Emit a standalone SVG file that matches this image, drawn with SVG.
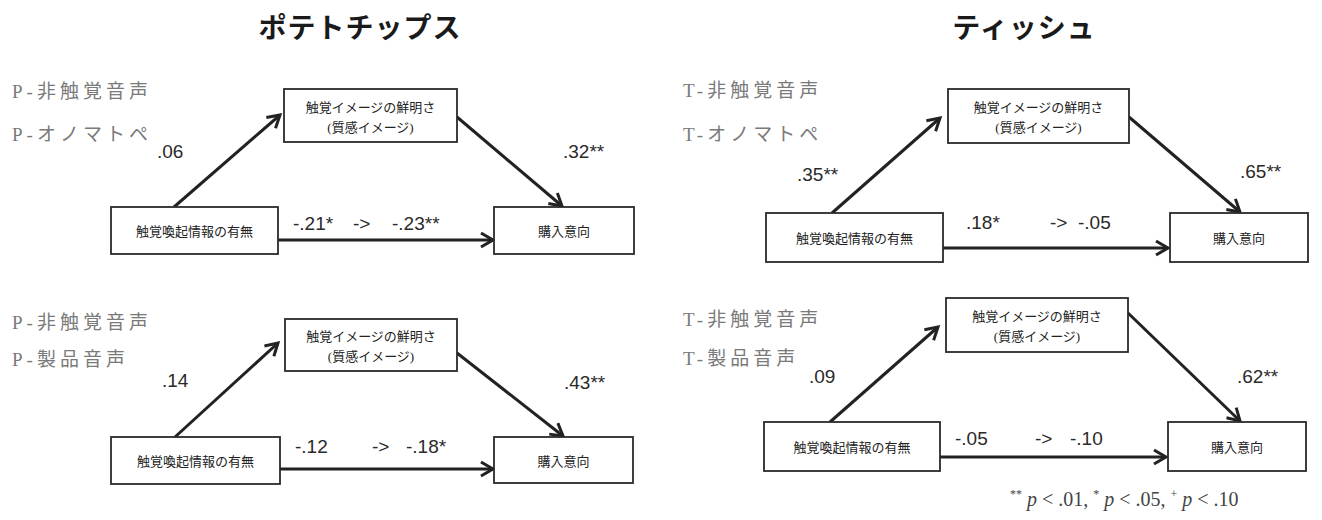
<svg xmlns="http://www.w3.org/2000/svg" width="1322" height="520" viewBox="0 0 1322 520">
<defs>
<marker id="ah" markerUnits="userSpaceOnUse" markerWidth="18" markerHeight="18" refX="14" refY="9" orient="auto">
<path d="M2,2 L14,9 L2,16" fill="none" stroke="#222" stroke-width="3" stroke-linejoin="miter"/>
</marker>
<style>
.title{font-family:"Noto Sans CJK JP",sans-serif;font-size:28px;font-weight:bold;fill:#1a1a1a;text-anchor:middle;letter-spacing:1px}
.cond{font-family:"Liberation Serif","Noto Sans CJK JP",serif;font-size:19px;fill:#7a7a7a;letter-spacing:4px}
.box{fill:#fff;stroke:#2a2a2a;stroke-width:1.8}
.bt{font-family:"Liberation Serif","Noto Sans CJK JP",serif;font-size:13px;fill:#222;text-anchor:middle}
.num{font-family:"Liberation Sans",Arial,sans-serif;font-size:19px;fill:#2a2a2a}
.arr{stroke:#222;stroke-width:3;fill:none;marker-end:url(#ah)}
.note{font-family:"Liberation Serif",serif;font-size:20px;fill:#444}
</style>
</defs>
<rect width="1322" height="520" fill="#fff"/>

<g id="titles">
<text class="title" x="360" y="38">ポテトチップス</text>
<text class="title" x="1024" y="38">ティッシュ</text>
</g>

<g id="conditions">
<text class="cond" x="12" y="98">P-非触覚音声</text>
<text class="cond" x="12" y="141">P-オノマトペ</text>
<text class="cond" x="683" y="97">T-非触覚音声</text>
<text class="cond" x="683" y="141">T-オノマトペ</text>
<text class="cond" x="12" y="329">P-非触覚音声</text>
<text class="cond" x="12" y="366">P-製品音声</text>
<text class="cond" x="683" y="326">T-非触覚音声</text>
<text class="cond" x="683" y="365">T-製品音声</text>
</g>

<g id="connectors">
<line class="arr" x1="174" y1="207" x2="280" y2="115"/>
<line class="arr" x1="457" y1="117" x2="562" y2="206"/>
<line class="arr" x1="278" y1="240" x2="493" y2="240"/>
<line class="arr" x1="832" y1="213" x2="940" y2="118"/>
<line class="arr" x1="1129" y1="117" x2="1240" y2="212"/>
<line class="arr" x1="943" y1="248" x2="1168" y2="248"/>
<line class="arr" x1="175" y1="437" x2="278" y2="343"/>
<line class="arr" x1="457" y1="353" x2="563" y2="436"/>
<line class="arr" x1="280" y1="469" x2="493" y2="469"/>
<line class="arr" x1="830" y1="422" x2="938" y2="327"/>
<line class="arr" x1="1128" y1="313" x2="1240" y2="421"/>
<line class="arr" x1="940" y1="457" x2="1166" y2="457"/>
</g>

<g id="p1-mediator"><rect class="box" x="284" y="89" width="173" height="53"/><text class="bt" x="370.5" y="112">触覚イメージの鮮明さ</text><text class="bt" x="370.5" y="132">(質感イメージ)</text></g>
<g id="p1-x"><rect class="box" x="111" y="207" width="167" height="47"/><text class="bt" x="194.5" y="236">触覚喚起情報の有無</text></g>
<g id="p1-y"><rect class="box" x="494" y="207" width="140" height="47"/><text class="bt" x="564" y="236">購入意向</text></g>

<g id="t1-mediator"><rect class="box" x="948" y="89" width="181" height="54"/><text class="bt" x="1038.5" y="112">触覚イメージの鮮明さ</text><text class="bt" x="1038.5" y="132">(質感イメージ)</text></g>
<g id="t1-x"><rect class="box" x="766" y="213" width="177" height="49"/><text class="bt" x="854.5" y="243">触覚喚起情報の有無</text></g>
<g id="t1-y"><rect class="box" x="1170" y="213" width="138" height="49"/><text class="bt" x="1239" y="243">購入意向</text></g>

<g id="p2-mediator"><rect class="box" x="285" y="319" width="172" height="52"/><text class="bt" x="371" y="341">触覚イメージの鮮明さ</text><text class="bt" x="371" y="361">(質感イメージ)</text></g>
<g id="p2-x"><rect class="box" x="111" y="437" width="169" height="47"/><text class="bt" x="195.5" y="466">触覚喚起情報の有無</text></g>
<g id="p2-y"><rect class="box" x="494" y="437" width="139" height="46"/><text class="bt" x="563.5" y="466">購入意向</text></g>

<g id="t2-mediator"><rect class="box" x="946" y="298" width="182" height="54"/><text class="bt" x="1037" y="321">触覚イメージの鮮明さ</text><text class="bt" x="1037" y="341">(質感イメージ)</text></g>
<g id="t2-x"><rect class="box" x="764" y="422" width="176" height="49"/><text class="bt" x="852" y="452">触覚喚起情報の有無</text></g>
<g id="t2-y"><rect class="box" x="1168" y="422" width="138" height="49"/><text class="bt" x="1237" y="452">購入意向</text></g>

<g id="coefficients">
<text class="num" x="157" y="158">.06</text>
<text class="num" x="563" y="158">.32**</text>
<text class="num" x="293" y="230">-.21*</text>
<text class="num" x="353" y="230">-&gt;</text>
<text class="num" x="392" y="230">-.23**</text>

<text class="num" x="797" y="181">.35**</text>
<text class="num" x="1240" y="178">.65**</text>
<text class="num" x="966" y="229">.18*</text>
<text class="num" x="1050" y="229">-&gt;</text>
<text class="num" x="1078" y="229">-.05</text>

<text class="num" x="162" y="387">.14</text>
<text class="num" x="564" y="389">.43**</text>
<text class="num" x="295" y="453">-.12</text>
<text class="num" x="372" y="453">-&gt;</text>
<text class="num" x="406" y="453">-.18*</text>

<text class="num" x="809" y="383">.09</text>
<text class="num" x="1237" y="383">.62**</text>
<text class="num" x="955" y="445">-.05</text>
<text class="num" x="1035" y="445">-&gt;</text>
<text class="num" x="1070" y="445">-.10</text>
</g>

<g id="footnote">
<text class="note" x="1010" y="506"><tspan font-size="12" dy="-8">**</tspan><tspan dy="8"> </tspan><tspan font-style="italic">p</tspan> &lt; .01, <tspan font-size="12" dy="-8">*</tspan><tspan dy="8"> </tspan><tspan font-style="italic">p</tspan> &lt; .05, <tspan font-size="12" dy="-8">+</tspan><tspan dy="8"> </tspan><tspan font-style="italic">p</tspan> &lt; .10</text>
</g>
</svg>
